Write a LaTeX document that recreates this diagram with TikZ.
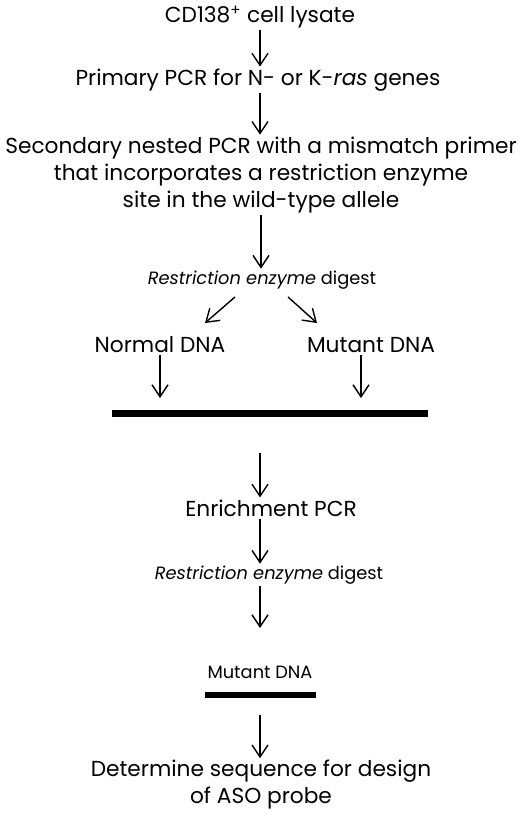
\documentclass[tikz,border=0pt]{standalone}
\usepackage{fontspec}
\setmainfont{Poppins}
\usetikzlibrary{arrows.meta}

\begin{document}
\begin{tikzpicture}[x=1pt,y=-1pt,>={Straight Barb[length=12pt,width=16pt]},
    stage/.style={font=\fontsize{21.7}{27}\selectfont,align=center,inner sep=2pt},
    note/.style={font=\fontsize{17.8}{21}\selectfont,inner sep=2pt},
    flow/.style={->,line width=1.4pt},
    gel/.style={line width=7pt}]
            \useasboundingbox (0,0) rectangle (520,815);
            \node [stage] (lysate) at (260,17) {CD138\textsuperscript{+} cell lysate};
            \node [stage] (primary) at (258,80) {Primary PCR for N- or K-\textit{ras} genes};
            \node [stage] (nested) at (261,175) {Secondary nested PCR with a mismatch primer\\that incorporates a restriction enzyme\\site in the wild-type allele};
            \node [note] (digestA) at (262,280) {\textit{Restriction enzyme} digest};
            \node [stage] (normal) at (160,345) {Normal DNA};
            \node [stage] (mutant) at (371,345) {Mutant DNA};
            \node [stage] (enrich) at (271,508) {Enrichment PCR};
            \node [note] (digestB) at (269,575) {\textit{Restriction enzyme} digest};
            \node [note] (pure) at (260,672) {Mutant DNA};
            \node [stage] (design) at (261,785) {Determine sequence for design\\of ASO probe};
            % split after the first digest
            \coordinate (splitL) at (235,297);
            \coordinate (splitR) at (288,297);
            \coordinate (normalin) at (205,323);
            \coordinate (mutantin) at (317,323);
            % gel bars
            \coordinate (gelL) at (112,413);
            \coordinate (gelR) at (428,413);
            \coordinate (normalend) at (160,398);
            \coordinate (mutantend) at (361,398);
            \coordinate (gelout) at (260,453);
            \coordinate (pureL) at (205,695);
            \coordinate (pureR) at (316,695);
            \coordinate (pureout) at (260,715);
            \draw [gel] (gelL) -- (gelR);
            \draw [gel,line width=6pt] (pureL) -- (pureR);
            \draw [flow] (lysate.south) -- (primary.north -| lysate.south);
            \draw [flow] (primary.south -| lysate.south) -- (nested.north -| lysate.south);
            \draw [flow] (nested.south) -- (nested.south |- digestA.north);
            \draw [flow] (splitL) -- (normalin);
            \draw [flow] (splitR) -- (mutantin);
            \draw [flow] (normal.south) -- (normalend);
            \draw [flow] (mutantend |- mutant.south) -- (mutantend);
            \draw [flow] (gelout) -- (gelout |- enrich.north);
            \draw [flow] (gelout |- enrich.south) -- (gelout |- digestB.north);
            \draw [flow] (gelout |- digestB.south) -- (260,628);
            \draw [flow] (pureout) -- (pureout |- design.north);
        \end{tikzpicture}
\end{document}
